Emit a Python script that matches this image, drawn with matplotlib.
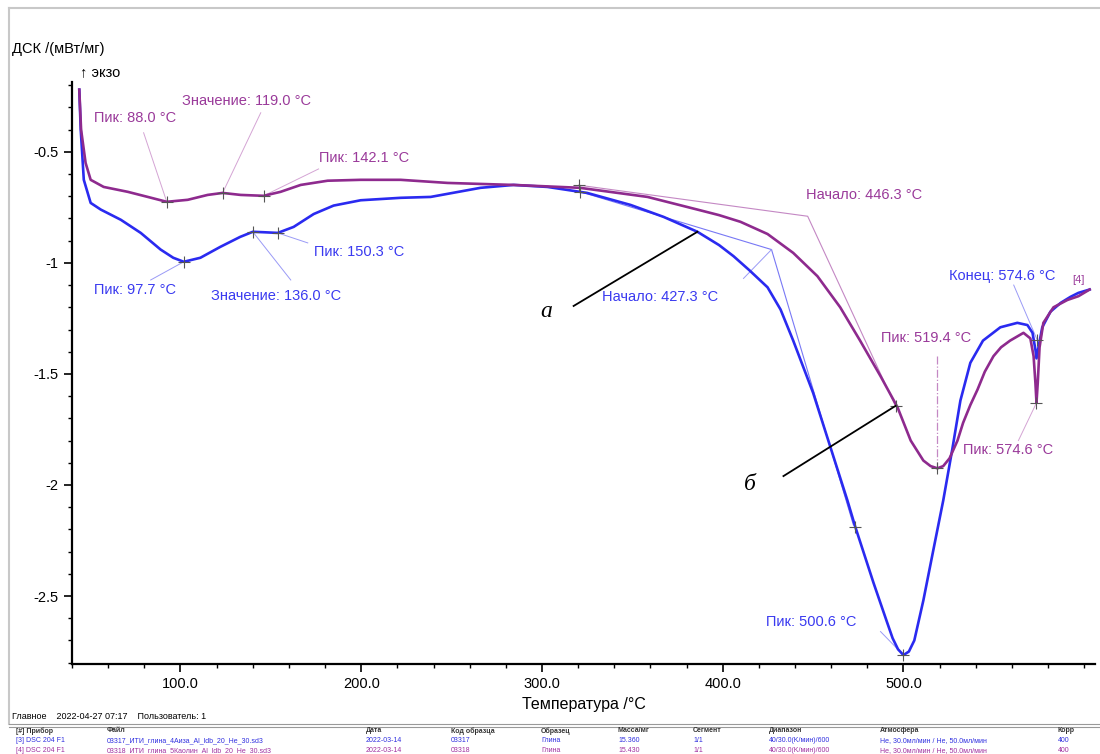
import matplotlib
matplotlib.use('Agg')
import matplotlib.pyplot as plt
from matplotlib.lines import Line2D
from matplotlib.ticker import MultipleLocator

plt.rcParams['font.family'] = ['Liberation Sans', 'DejaVu Sans']

# кривая [3] (синяя)
t_blue = [44, 44.8, 46.5, 50.3, 55.9, 67, 78, 89, 96, 101.8, 111, 122, 133, 140, 146, 153.8,
          162.6, 173.7, 184.7, 199.7, 221.8, 238.4, 266, 284.3, 303, 325, 349, 367.3, 386, 398,
          406, 415, 424.8, 432, 439, 450, 459.6, 469, 473.4, 483.4, 491, 494, 497, 500, 503,
          506, 511, 516.6, 522, 527, 531.5, 537, 544, 553.6, 563, 568.6, 571.4, 573, 573.6,
          574.7, 576.8, 581.3, 587, 592.4, 596.8, 603]
dsc_blue = [-0.22, -0.40, -0.626, -0.73, -0.76, -0.806, -0.865, -0.94, -0.977, -0.995, -0.977,
            -0.928, -0.883, -0.86, -0.862, -0.865, -0.838, -0.78, -0.742, -0.718, -0.707, -0.703,
            -0.662, -0.649, -0.658, -0.685, -0.739, -0.793, -0.86, -0.92, -0.97, -1.035, -1.11,
            -1.21, -1.35, -1.585, -1.83, -2.07, -2.19, -2.44, -2.62, -2.69, -2.74, -2.766, -2.75,
            -2.70, -2.52, -2.29, -2.07, -1.84, -1.62, -1.45, -1.35, -1.29, -1.27, -1.28, -1.315,
            -1.39, -1.43, -1.38, -1.29, -1.22, -1.18, -1.153, -1.135, -1.12]

# кривая [4] (фиолетовая)
t_purple = [44, 45, 47.5, 50.3, 57.5, 70.8, 81.9, 92.4, 104, 115, 123.3, 133.3, 146, 155.4,
            166.5, 181.4, 199.7, 221.8, 247.8, 284.3, 321, 358.4, 386, 398, 409.8, 424.8, 439,
            452.4, 465, 476, 487.3, 496.7, 504, 511, 515, 518.8, 522, 525.5, 529.9, 533, 537,
            541, 545, 549.8, 554, 559, 566.4, 570.2, 572, 573, 573.6, 574.3, 575.3, 577.4, 583,
            590.7, 596.8, 603]
dsc_purple = [-0.22, -0.40, -0.55, -0.626, -0.658, -0.68, -0.703, -0.725, -0.716, -0.694, -0.685,
              -0.694, -0.698, -0.68, -0.649, -0.63, -0.626, -0.626, -0.64, -0.649, -0.662, -0.703,
              -0.76, -0.785, -0.815, -0.87, -0.955, -1.06, -1.20, -1.35, -1.51, -1.65, -1.80,
              -1.89, -1.915, -1.925, -1.915, -1.88, -1.80, -1.72, -1.64, -1.57, -1.49, -1.42,
              -1.38, -1.35, -1.315, -1.34, -1.42, -1.54, -1.63, -1.54, -1.38, -1.27, -1.20,
              -1.167, -1.15, -1.12]

# касательные (определение начала)
tang_blue_t = [321.3, 427, 472.3]
tang_blue_v = [-0.68, -0.94, -2.18]
tang_purple_t = [320.3, 447, 495.6]
tang_purple_v = [-0.65, -0.79, -1.645]

# отмеченные точки
marks_blue_t = [101.8, 140, 153.8, 321.3, 473.4, 500, 574]
marks_blue_v = [-0.995, -0.86, -0.865, -0.68, -2.19, -2.766, -1.347]
marks_purple_t = [92.4, 123.3, 146, 320.3, 495.6, 518.8, 573.6]
marks_purple_v = [-0.725, -0.685, -0.698, -0.65, -1.645, -1.925, -1.63]

blue = '#2a2af0'
purple = '#8e2a8e'
blue_txt = '#3a3af0'
purple_txt = '#9a3a9a'
lp = '#d4a4d4'
lb = '#9a9af6'

fig = plt.figure(figsize=(11, 7.54), dpi=100)
ax = fig.add_axes([0.0655, 0.1194, 0.93, 0.772])

ax.plot(t_blue, dsc_blue, color=blue, lw=1.9, zorder=3)
ax.plot(t_purple, dsc_purple, color=purple, lw=1.9, zorder=3)
ax.plot(tang_blue_t, tang_blue_v, color='#7878f5', lw=0.8, zorder=2)
ax.plot(tang_purple_t, tang_purple_v, color='#c488c4', lw=0.8, zorder=2)
ax.plot(marks_blue_t, marks_blue_v, '+', color='#555555', ms=9, mew=0.8, zorder=4)
ax.plot(marks_purple_t, marks_purple_v, '+', color='#555555', ms=9, mew=0.8, zorder=4)
ax.plot([518.8, 518.8], [-1.42, -1.925], color='#c488c4', lw=0.9, ls='-.', zorder=2)


# подпись с выноской
def note(text, mark, end, pos, col, lcol):
    ax.plot([mark[0], end[0]], [mark[1], end[1]], color=lcol, lw=0.7, zorder=2)
    ax.text(pos[0], pos[1], text, color=col, fontsize=10.5, va='center', ha='left', zorder=5)


note('Пик: 88.0 °C', (92.4, -0.725), (79.6, -0.414), (52, -0.347), purple_txt, lp)
note('Значение: 119.0 °C', (123.3, -0.685), (144.4, -0.324), (100.7, -0.27), purple_txt, lp)
note('Пик: 142.1 °C', (146, -0.698), (176.4, -0.577), (176.4, -0.527), purple_txt, lp)
note('Начало: 446.3 °C', (447, -0.79), (447, -0.79), (445.8, -0.694), purple_txt, lp)
note('Пик: 519.4 °C', (518.8, -1.42), (518.8, -1.42), (487.3, -1.338), purple_txt, lp)
note('Пик: 574.6 °C', (573.6, -1.63), (563.6, -1.80), (533, -1.842), purple_txt, lp)

note('Пик: 97.7 °C', (101.8, -0.995), (83.5, -1.077), (52, -1.12), blue_txt, lb)
note('Значение: 136.0 °C', (140, -0.86), (161, -1.077), (117, -1.149), blue_txt, lb)
note('Пик: 150.3 °C', (153.8, -0.865), (170.4, -0.91), (173.7, -0.95), blue_txt, lb)
note('Начало: 427.3 °C', (427, -0.94), (411.5, -1.07), (333, -1.153), blue_txt, lb)
note('Пик: 500.6 °C', (500, -2.766), (487.3, -2.66), (423.7, -2.617), blue_txt, lb)
note('Конец: 574.6 °C', (574, -1.347), (561, -1.10), (525, -1.059), blue_txt, lb)
ax.text(593.5, -1.075, '[4]', color=purple_txt, fontsize=8, va='center')

# обозначения а, б
ax.plot([317.5, 386], [-1.194, -0.86], color='black', lw=1.3, zorder=6)
ax.plot([433.6, 495.6], [-1.96, -1.644], color='black', lw=1.3, zorder=6)
ax.text(299.2, -1.22, 'а', fontsize=17, style='italic', family='Liberation Serif', va='center')
ax.text(411.5, -2.0, 'б', fontsize=17, style='italic', family='Liberation Serif', va='center')

ax.set_xlim(40, 606)
ax.set_ylim(-2.806, -0.185)
ax.set_xticks([100, 200, 300, 400, 500])
ax.set_xticklabels(['100.0', '200.0', '300.0', '400.0', '500.0'])
ax.xaxis.set_minor_locator(MultipleLocator(20))
ax.set_yticks([-0.5, -1, -1.5, -2, -2.5])
ax.set_yticklabels(['-0.5', '-1', '-1.5', '-2', '-2.5'])
ax.yaxis.set_minor_locator(MultipleLocator(0.1))
for s in ['top', 'right']:
    ax.spines[s].set_visible(False)
for s in ['left', 'bottom']:
    ax.spines[s].set_linewidth(1.6)
ax.tick_params(which='major', length=6, width=1.2, labelsize=10.5, direction='out')
ax.tick_params(which='minor', length=3, width=1.0, direction='out')
ax.set_xlabel('Температура /°C', fontsize=11.5, labelpad=4)

fig.text(0.011, 0.935, 'ДСК /(мВт/мг)', fontsize=10.5, va='center')
fig.text(0.073, 0.905, '↑ экзо', fontsize=10.5, va='center')

# рамка
fig.add_artist(Line2D([0.008, 0.008], [0.04, 0.99], color='#c8c8c8', lw=1.5))
fig.add_artist(Line2D([0.008, 1.0], [0.99, 0.99], color='#c8c8c8', lw=1.5))
fig.add_artist(Line2D([0.008, 1.0], [0.040, 0.040], color='#999999', lw=0.8))
fig.add_artist(Line2D([0.008, 1.0], [0.036, 0.036], color='#999999', lw=0.8))

# нижняя таблица
fig.text(0.011, 0.050, 'Главное    2022-04-27 07:17    Пользователь: 1', fontsize=6.5, va='center')
col_x = [16, 107, 366, 451, 541, 618, 693, 769, 880, 1058]
head = ['[#] Прибор', 'Файл', 'Дата', 'Код образца', 'Образец', 'Масса/мг', 'Сегмент',
        'Диапазон', 'Атмосфера', 'Корр']
row1 = ['[3] DSC 204 F1', '03317_ИТИ_глина_4Аиза_Al_ldb_20_He_30.sd3', '2022-03-14', '03317',
        'Глина', '15.360', '1/1', '40/30.0(K/мин)/600', 'He, 30.0мл/мин / He, 50.0мл/мин', '400']
row2 = ['[4] DSC 204 F1', '03318_ИТИ_глина_5Каолин_Al_ldb_20_He_30.sd3', '2022-03-14', '03318',
        'Глина', '15.430', '1/1', '40/30.0(K/мин)/600', 'He, 30.0мл/мин / He, 50.0мл/мин', '400']
for x, h, a, b in zip(col_x, head, row1, row2):
    fig.text(x / 1100, 1 - 731 / 754, h, fontsize=5, weight='bold', color='#333333', va='center')
    fig.text(x / 1100, 1 - 741 / 754, a, fontsize=5, color='#3030e0', va='center')
    fig.text(x / 1100, 1 - 751 / 754, b, fontsize=5, color='#a030a0', va='center')

fig.savefig('out.png', dpi=100)
